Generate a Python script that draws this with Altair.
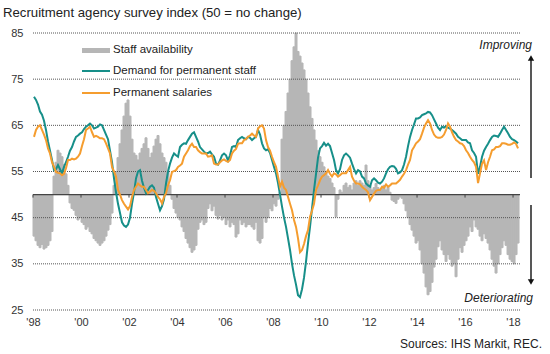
import altair as alt
import pandas as pd

# ---------------- data (monthly, Jan 1998 - Mar 2018) ----------------
demand = [
    71.2, 70.5, 69.5, 68.0, 67.3, 66.0, 64.0, 61.5, 59.5, 57.5, 55.3, 55.5,  # 1998
    56.4, 55.5, 54.6, 56.0, 57.0, 58.2, 59.5, 60.3, 61.5, 62.5, 62.8, 63.2,  # 1999
    63.5, 64.2, 64.7, 65.0, 65.4, 65.0, 64.3, 64.5, 64.7, 65.2, 65.0, 64.0,  # 2000
    63.0, 62.0, 59.5, 57.0, 53.5, 50.5, 48.0, 46.0, 44.0, 43.3, 43.0, 43.5,  # 2001
    45.0, 48.0, 50.5, 53.5, 55.0, 55.3, 53.0, 51.5, 50.3, 51.0, 51.7, 52.0,  # 2002
    51.5, 49.5, 48.0, 46.6, 47.5, 49.0, 52.4, 55.0, 56.7, 58.0, 58.9, 58.5,  # 2003
    58.2, 60.3, 60.8, 61.1, 61.0, 61.8, 62.5, 63.2, 63.5, 62.5, 61.5, 60.3,  # 2004
    59.8, 59.3, 58.9, 59.0, 59.3, 58.7, 58.2, 56.7, 56.5, 57.4, 58.5, 58.9,  # 2005
    58.5, 57.4, 58.5, 60.3, 60.5, 60.3, 61.8, 62.2, 62.5, 62.2, 62.0, 62.5,  # 2006
    62.3, 61.8, 62.2, 62.5, 64.0, 63.0, 61.1, 60.0, 59.6, 59.8, 59.0, 57.5,  # 2007
    56.0, 54.6, 52.5, 50.0, 47.4, 45.0, 43.0, 40.5, 38.0, 35.0, 32.5, 30.5,  # 2008
    28.2, 27.8, 29.5, 32.0, 35.5, 39.5, 43.0, 47.0, 51.0, 54.5, 58.0, 60.0,  # 2009
    60.5, 61.2, 60.6, 61.0, 60.5, 59.0, 57.5, 55.3, 54.6, 55.5, 57.5, 58.5,  # 2010
    58.9, 58.5, 58.0, 56.7, 55.5, 54.6, 55.3, 55.0, 53.9, 53.5, 52.4, 52.0,  # 2011
    51.7, 53.1, 53.5, 53.1, 52.6, 52.4, 52.8, 53.5, 54.6, 55.5, 56.0, 56.2,  # 2012
    56.1, 55.6, 54.6, 54.8, 55.3, 56.5, 58.2, 60.5, 62.5, 64.0, 65.2, 66.5,  # 2013
    66.5, 66.7, 67.2, 67.4, 67.6, 67.9, 67.8, 67.2, 66.3, 65.4, 64.5, 64.0,  # 2014
    64.7, 64.5, 64.8, 64.5, 64.3, 64.0, 63.6, 63.2, 62.5, 62.2, 61.8, 61.8,  # 2015
    61.8, 61.3, 61.1, 59.6, 59.0, 58.2, 54.5, 56.0, 58.2, 59.5, 60.3, 61.0,  # 2016
    61.8, 62.5, 62.8, 62.7, 62.5, 63.2, 64.0, 64.7, 64.0, 63.3, 62.5, 62.0,  # 2017
    61.8, 61.5, 61.1,                                                        # 2018
]

salaries = [
    62.5, 64.0, 64.7, 65.0, 64.0, 63.0, 61.8, 60.0, 58.9, 57.0, 56.0, 54.9,  # 1998
    54.7, 54.6, 54.2, 54.5, 55.7, 57.5, 57.5, 57.8, 57.6, 57.8, 58.2, 58.9,  # 1999
    60.5, 62.0, 64.0, 64.3, 64.7, 63.5, 62.5, 62.7, 62.5, 62.2, 62.2, 62.0,  # 2000
    61.1, 60.0, 58.9, 56.0, 55.0, 53.9, 51.0, 50.0, 48.8, 48.0, 47.4, 46.8,  # 2001
    47.5, 49.5, 51.0, 51.7, 52.4, 52.0, 51.7, 51.7, 51.0, 50.3, 50.6, 51.0,  # 2002
    50.8, 50.3, 49.5, 49.0, 48.1, 49.5, 50.3, 52.0, 53.1, 54.9, 55.1, 55.3,  # 2003
    56.0, 56.3, 56.7, 58.2, 58.9, 59.6, 60.5, 61.0, 60.3, 60.3, 59.6, 59.2,  # 2004
    58.9, 58.9, 58.9, 58.2, 58.3, 58.5, 56.7, 56.5, 56.5, 57.0, 57.4, 57.6,  # 2005
    57.3, 57.1, 57.5, 58.9, 59.5, 59.9, 61.0, 61.1, 61.1, 61.8, 62.0, 62.5,  # 2006
    62.8, 63.2, 62.8, 62.5, 64.3, 64.8, 65.0, 64.3, 61.8, 60.3, 59.5, 58.2,  # 2007
    57.0, 56.0, 53.9, 51.7, 52.8, 51.5, 51.0, 49.5, 48.0, 46.6, 44.5, 43.0,  # 2008
    40.5, 37.5, 38.0, 39.3, 41.0, 42.3, 45.2, 46.5, 48.0, 51.0, 52.0, 53.1,  # 2009
    53.9, 54.2, 54.6, 55.3, 54.5, 53.9, 54.6, 54.4, 53.9, 54.2, 54.6, 54.6,  # 2010
    54.6, 55.3, 56.0, 53.9, 53.0, 52.4, 52.4, 52.2, 51.7, 51.3, 51.0, 50.5,  # 2011
    48.8, 49.5, 50.2, 50.8, 51.0, 51.0, 51.7, 51.5, 52.2, 51.7, 52.0, 52.4,  # 2012
    52.4, 52.4, 52.8, 53.2, 53.9, 54.5, 55.3, 56.5, 57.5, 59.6, 60.3, 61.1,  # 2013
    61.5, 62.0, 63.2, 64.5, 65.4, 66.1, 65.4, 64.0, 63.0, 62.5, 62.3, 62.3,  # 2014
    62.5, 63.0, 64.0, 65.4, 64.7, 63.5, 62.5, 61.8, 61.5, 61.1, 61.0, 60.5,  # 2015
    59.6, 59.0, 58.2, 57.5, 57.0, 56.0, 52.5, 54.6, 56.7, 57.4, 55.3, 57.0,  # 2016
    58.2, 59.6, 59.8, 60.3, 60.3, 60.5, 61.1, 61.1, 61.0, 60.8, 60.8, 61.0,  # 2017
    61.3, 61.0, 60.0,                                                        # 2018
]

staff = [
    41.0, 40.0, 39.0, 38.5, 39.2, 38.2, 38.5, 39.0, 40.0, 42.0, 54.0, 57.0,  # 1998
    59.6, 59.0, 58.2, 56.5, 54.5, 52.0, 48.2, 47.0, 46.6, 45.5, 44.5, 45.0,  # 1999
    44.0, 43.5, 42.5, 43.0, 42.0, 41.5, 40.5, 40.0, 39.5, 39.0, 39.5, 40.0,  # 2000
    41.0, 42.3, 43.5, 46.0, 52.0, 55.0, 58.0, 61.0, 64.0, 67.0, 69.8, 70.5,  # 2001
    67.0, 62.0, 59.0, 58.5, 57.5, 59.0, 60.0, 61.0, 62.3, 60.0, 58.0, 59.0,  # 2002
    60.5, 62.0, 62.8, 61.0, 59.0, 58.0, 57.0, 55.0, 52.0, 49.0, 47.0, 46.0,  # 2003
    45.0, 44.5, 43.0, 42.0, 40.5, 39.5, 38.5, 37.5, 38.0, 39.0, 42.5, 44.0,  # 2004
    44.5, 43.5, 44.0, 47.0, 48.0, 46.5, 47.5, 45.5, 44.7, 45.5, 44.5, 45.0,  # 2005
    43.5, 44.5, 43.0, 44.0, 43.5, 40.8, 41.5, 44.5, 43.5, 44.0, 43.0, 43.5,  # 2006
    43.5, 43.0, 42.5, 44.0, 40.0, 39.5, 40.5, 45.0, 44.0, 45.0, 47.0, 46.5,  # 2007
    48.0, 47.5, 49.0, 50.5, 62.0, 65.0, 68.0, 72.0, 75.0, 79.0, 82.0, 85.0,  # 2008
    81.0, 80.0, 78.5, 77.0, 75.0, 72.0, 69.0, 66.5, 64.0, 61.8, 59.5, 58.2,  # 2009
    57.0, 56.0, 55.0, 54.0, 53.5, 52.5, 51.5, 45.2, 49.0, 51.0, 50.5, 52.0,  # 2010
    52.5, 51.5, 52.0, 51.0, 52.5, 53.0, 52.0, 53.0, 52.5, 52.0, 56.4, 53.0,  # 2011
    52.0, 51.0, 51.5, 52.4, 51.5, 50.8, 51.5, 52.0, 51.0, 51.7, 50.5, 48.8,  # 2012
    48.5, 48.1, 49.0, 49.5, 49.2, 48.0, 46.5, 45.0, 43.5, 42.3, 41.0, 39.5,  # 2013
    40.0, 38.0, 35.0, 33.0, 30.0, 28.3, 29.0, 31.0, 34.3, 36.0, 38.7, 40.0,  # 2014
    38.0, 37.0, 35.5, 37.0, 36.0, 34.5, 35.0, 32.2, 36.0, 38.5, 37.5, 39.0,  # 2015
    40.0, 41.0, 43.0, 42.0, 44.5, 43.0, 42.5, 41.0, 40.0, 41.5, 40.5, 39.5,  # 2016
    38.0, 36.0, 34.5, 33.0, 35.0, 37.0, 38.5, 40.0, 39.0, 37.0, 36.0, 35.5,  # 2017
    35.0, 37.0, 39.5,                                                        # 2018
]

start_year = 1998
year_ticks = list(range(1998, 2019, 2))
y_ticks = [25, 35, 45, 55, 65, 75, 85]
baseline = 50

title_text = "Recruitment agency survey index (50 = no change)"
legend_labels = ["Staff availability", "Demand for permanent staff", "Permanent salaries"]
source_text = "Sources: IHS Markit, REC."

# ---------------- styles ----------------
FONT = "Liberation Sans"
GRAY = "#b6b6b6"
TEAL = "#178f89"
ORANGE = "#f59d2f"
TXT = "#222222"

n = len(demand)
t = [start_year + i / 12 for i in range(n)]
df = pd.DataFrame({
    "t": t,
    "t2": [v + 1 / 12 for v in t],
    "tm": [v + 1 / 24 for v in t],
    "staff": staff,
    "demand": demand,
    "salaries": salaries,
})

xs = alt.Scale(domain=[1998, 2018.29], nice=False, zero=False)
ys = alt.Scale(domain=[25, 85], nice=False, zero=False)

x_axis = alt.Axis(values=year_ticks, labelExpr="\"'\" + substring(toString(datum.value), 2, 4)",
                  domain=False, ticks=False, grid=False, title=None, labelPadding=6,
                  labelFlush=False, labelFont=FONT, labelFontSize=11, labelColor="#333333")
y_axis = alt.Axis(values=y_ticks, domain=False, ticks=False, grid=False, title=None,
                  labelPadding=10, labelFont=FONT, labelFontSize=11, labelColor="#333333")

bars = alt.Chart(df).mark_rect(color=GRAY, stroke=GRAY, strokeWidth=1).encode(
    x=alt.X("t:Q", scale=xs, axis=x_axis),
    x2="t2:Q",
    y=alt.Y("staff:Q", scale=ys, axis=y_axis),
    y2=alt.datum(baseline),
)

grid = alt.Chart(pd.DataFrame({"y": y_ticks})).mark_rule(
    color="#555555", strokeDash=[1, 1], strokeWidth=1
).encode(y=alt.Y("y:Q", scale=ys))

zero_line = alt.Chart(pd.DataFrame({"y": [baseline]})).mark_rule(
    color="#444444", strokeWidth=1.2
).encode(y=alt.Y("y:Q", scale=ys))

ticks = alt.Chart(pd.DataFrame({"yr": year_ticks})).mark_rule(
    color="#444444", strokeWidth=1
).encode(x=alt.X("yr:Q", scale=xs), y=alt.datum(baseline), y2=alt.datum(49.35))

line_d = alt.Chart(df).mark_line(color=TEAL, strokeWidth=2).encode(
    x=alt.X("tm:Q", scale=xs), y=alt.Y("demand:Q", scale=ys))
line_s = alt.Chart(df).mark_line(color=ORANGE, strokeWidth=2).encode(
    x=alt.X("tm:Q", scale=xs), y=alt.Y("salaries:Q", scale=ys))


def label(txt, x, y, size=11, align="left", italic=False, color=TXT):
    return alt.Chart(pd.DataFrame({"label": [txt]})).mark_text(
        align=align, baseline="middle", font=FONT, fontSize=size,
        fontStyle="italic" if italic else "normal", color=color
    ).encode(text="label:N", x=alt.value(x), y=alt.value(y))


one = pd.DataFrame({"k": [0]})
leg_bar = alt.Chart(one).mark_rect(color=GRAY).encode(
    x=alt.value(49), x2=alt.value(77), y=alt.value(15), y2=alt.value(20))
leg_teal = alt.Chart(one).mark_rule(color=TEAL, strokeWidth=2).encode(
    x=alt.value(49), x2=alt.value(77), y=alt.value(38))
leg_orange = alt.Chart(one).mark_rule(color=ORANGE, strokeWidth=2).encode(
    x=alt.value(49), x2=alt.value(77), y=alt.value(60))

arrow_up = alt.Chart(one).mark_rule(color="#111111", strokeWidth=1.4).encode(
    x=alt.value(498), y=alt.value(145), y2=alt.value(27))
arrow_up_head = alt.Chart(one).mark_point(shape="triangle-up", filled=True, color="#111111",
                                          size=40, opacity=1).encode(
    x=alt.value(498), y=alt.value(25))
arrow_dn = alt.Chart(one).mark_rule(color="#111111", strokeWidth=1.4).encode(
    x=alt.value(498), y=alt.value(172), y2=alt.value(247))
arrow_dn_head = alt.Chart(one).mark_point(shape="triangle-down", filled=True, color="#111111",
                                          size=40, opacity=1).encode(
    x=alt.value(498), y=alt.value(249))

layers = [
    bars, grid, zero_line, ticks, line_d, line_s,
    leg_bar, leg_teal, leg_orange,
    label(legend_labels[0], 80, 17, size=11.5),
    label(legend_labels[1], 80, 38, size=11.5),
    label(legend_labels[2], 80, 60, size=11.5),
    label(title_text, -30, -20, size=13.2),
    label("Improving", 499, 12, size=12, align="right", italic=True),
    label("Deteriorating", 500, 265, size=12, align="right", italic=True),
    label(source_text, 509, 311, size=12, align="right"),
    arrow_up, arrow_up_head, arrow_dn, arrow_dn_head,
]

chart = alt.layer(*layers).properties(
    width=487, height=277,
    padding={"left": 33, "top": 33, "right": 30, "bottom": 44},
    autosize=alt.AutoSizeParams(type="none"),
    background="white",
).configure_view(stroke=None)

chart.save("out.html", embed_options={"renderer": "svg", "actions": False})
